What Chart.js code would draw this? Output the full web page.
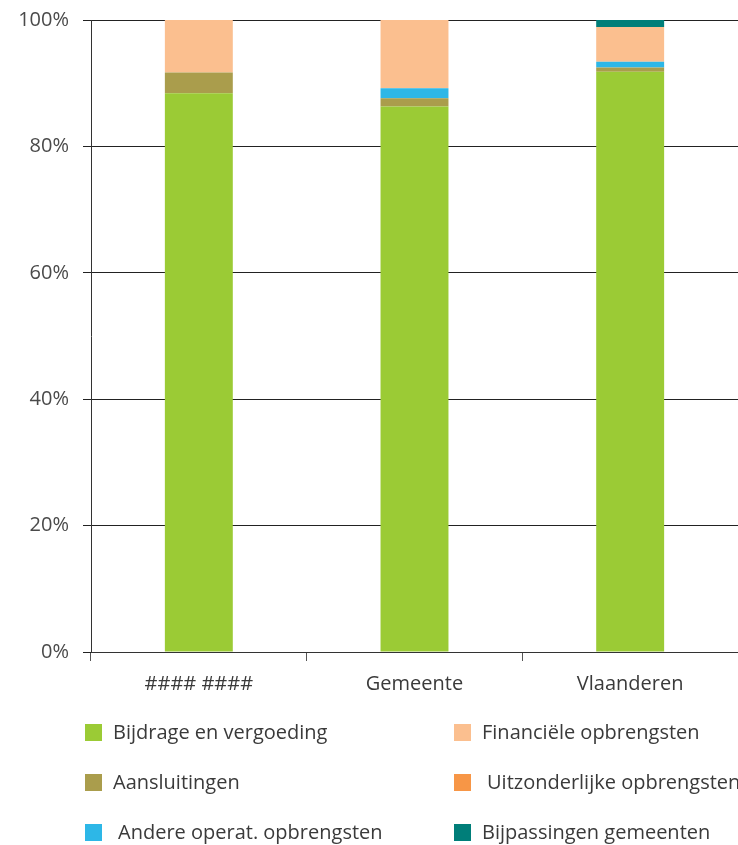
<!DOCTYPE html>
<html>
<head>
<meta charset="utf-8">
<script src="https://cdn.jsdelivr.net/npm/chart.js@4.4.0/dist/chart.umd.min.js"></script>
<style>
  html, body { margin: 0; padding: 0; background: #fff; }
  #wrap { position: relative; width: 738px; height: 845px; overflow: hidden; }
  #chartBox { position: absolute; left: 0; top: 0; width: 738px; height: 707px; }
  #legend { position: absolute; left: 0; top: 0; width: 738px; height: 845px;
            font-family: "Open Sans", sans-serif; font-size: 20px; color: #3a3a3a; }
  .item { position: absolute; white-space: nowrap; height: 28px; line-height: 28px; }
  .box { position: absolute; width: 17px; height: 17px; top: 5px; left: 0; }
  .txt { position: absolute; left: 28px; top: -1px; }
</style>
</head>
<body>
<div id="wrap">
  <div id="chartBox"><canvas id="chart"></canvas></div>
  <div id="legend"></div>
</div>
<script>
// Opbrengsten per category, share in %
const categories = ['#### ####', 'Gemeente', 'Vlaanderen'];

const bijdrage      = [88.4, 86.3, 91.8];
const aansluitingen = [3.3, 1.3, 0.7];
const andereOperat  = [0, 1.6, 0.9];
const financiele    = [8.3, 10.8, 5.5];
const uitzonderlijk = [0, 0, 0];
const bijpassingen  = [0, 0, 1.1];

const yTicks = [0, 20, 40, 60, 80, 100];

// legend reads row by row, two columns
const legendOrder = [
    'Bijdrage en vergoeding', 'Financiële opbrengsten',
    'Aansluitingen', 'Uitzonderlijke opbrengsten',
    'Andere operat. opbrengsten', 'Bijpassingen gemeenten'
];

const font = { family: '"Open Sans", sans-serif', size: 20 };

const ctx = document.getElementById('chart');

const chart = new Chart(ctx, {
    type: 'bar',
    data: {
        labels: categories,
        datasets: [
            { label: 'Bijdrage en vergoeding', data: bijdrage, backgroundColor: '#9bcb35' },
            { label: 'Aansluitingen', data: aansluitingen, backgroundColor: '#aa9d4c' },
            { label: 'Andere operat. opbrengsten', data: andereOperat, backgroundColor: '#2db7e7' },
            { label: 'Financiële opbrengsten', data: financiele, backgroundColor: '#fbbf8f' },
            { label: 'Uitzonderlijke opbrengsten', data: uitzonderlijk, backgroundColor: '#f79646' },
            { label: 'Bijpassingen gemeenten', data: bijpassingen, backgroundColor: '#007e79' }
        ]
    },
    options: {
        responsive: true,
        maintainAspectRatio: false,
        animation: false,
        layout: { padding: { top: 0, right: 0, left: 0, bottom: 0 } },
        datasets: {
            bar: { categoryPercentage: 1, barPercentage: 0.315 }
        },
        plugins: {
            legend: { display: false },
            tooltip: { enabled: false }
        },
        scales: {
            x: {
                stacked: true,
                grid: {
                    offset: true,
                    drawOnChartArea: false,
                    drawTicks: true,
                    tickLength: 9,
                    color: '#555'
                },
                border: { color: '#333', width: 1 },
                ticks: { color: '#3a3a3a', font: font, padding: 11 }
            },
            y: {
                stacked: true,
                min: 0,
                max: 100,
                afterFit: function(scale) {
                    scale.width = 91;
                    scale.paddingTop = 20;
                },
                afterBuildTicks: function(scale) {
                    scale.ticks = yTicks.map(v => ({ value: v }));
                },
                grid: {
                    color: '#222',
                    lineWidth: 1,
                    drawTicks: true,
                    tickLength: 8
                },
                border: { color: '#333', width: 1 },
                ticks: {
                    color: '#4a4a4a',
                    font: font,
                    padding: 14,
                    callback: function(value) { return value + '%'; }
                }
            }
        }
    }
});

// HTML legend built from the chart's own datasets
function buildLegend() {
    const box = document.getElementById('legend');
    const items = chart.options.plugins.legend.labels.generateLabels(chart);
    const rowsY = [733, 783, 833];
    const colX = [85, 454];
    legendOrder.forEach((name, i) => {
        const it = items.find(l => l.text === name);
        if (!it) return;
        const div = document.createElement('div');
        div.className = 'item';
        div.style.left = colX[i % 2] + 'px';
        div.style.top = (rowsY[Math.floor(i / 2)] - 14) + 'px';
        const sw = document.createElement('span');
        sw.className = 'box';
        sw.style.background = it.fillStyle;
        const tx = document.createElement('span');
        tx.className = 'txt';
        // the source has a small extra indent on two entries
        if (name === 'Uitzonderlijke opbrengsten' || name === 'Andere operat. opbrengsten') {
            tx.style.left = '33px';
        }
        tx.textContent = it.text;
        div.appendChild(sw);
        div.appendChild(tx);
        box.appendChild(div);
    });
}
buildLegend();
</script>
</body>
</html>
